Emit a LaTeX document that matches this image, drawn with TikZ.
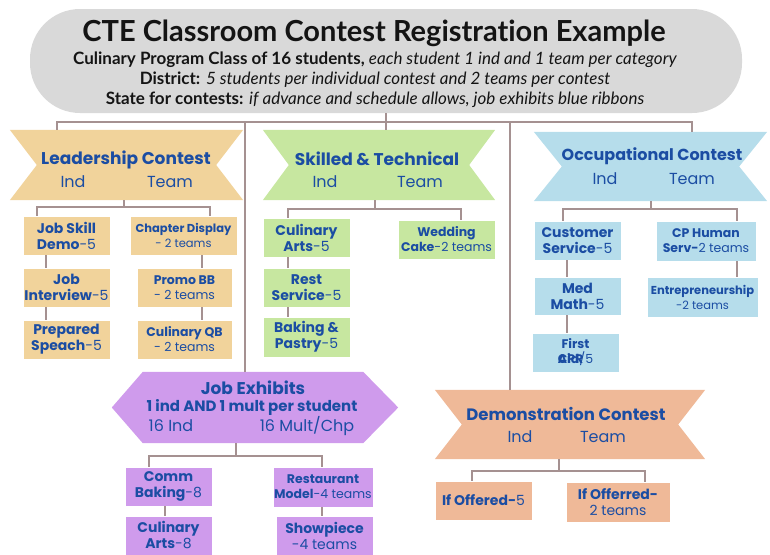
\documentclass[tikz,border=0pt]{standalone}
\usepackage{fontspec}
\setmainfont{Poppins}
\newfontfamily\latofont[Ligatures=NoCommon]{Lato}
\usetikzlibrary{calc}
\definecolor{txtblue}{RGB}{27,77,163}
\definecolor{conncol}{RGB}{165,145,145}
\definecolor{tanc}{RGB}{241,211,155}
\definecolor{greenc}{RGB}{199,231,160}
\definecolor{bluec}{RGB}{182,221,235}
\definecolor{purplec}{RGB}{207,155,236}
\definecolor{peachc}{RGB}{239,185,152}
\definecolor{grayc}{RGB}{217,217,217}
\definecolor{titletxt}{RGB}{20,20,20}
\tikzset{
  conn/.style={draw=conncol, line width=1.1pt},
  cbox/.style={rectangle, inner sep=0pt, align=center, text=txtblue, draw=white, line width=0.8pt, font=\fontsize{14}{16}\selectfont},
  smallbox/.style={cbox, font=\fontsize{12.5}{15}\selectfont},
  bnode/.style={rectangle, inner sep=0pt},
  btitle/.style={text=txtblue, font=\fontsize{17}{20}\selectfont\bfseries, inner sep=0pt},
  bsub/.style={text=txtblue, font=\fontsize{16}{19}\selectfont, inner sep=0pt},
  ttxt/.style={text=titletxt, inner sep=0pt},
  subline/.style={ttxt, font=\latofont\fontsize{17}{20}\selectfont},
}
\begin{document}
\begin{tikzpicture}[x=1pt,y=-1pt]
\useasboundingbox (0,0) rectangle (770,554);
% ---------- title ----------
\node[rectangle, rounded corners=50pt, fill=grayc, minimum width=712pt, minimum height=104pt] (title) at (386,61) {};
\node[ttxt, font=\latofont\fontsize{29}{32}\selectfont\bfseries] (t1) at (374,33) {CTE Classroom Contest Registration Example};
\node[subline] (t2) at (375,60) {\textbf{Culinary Program Class of 16 students,} \textit{each student 1 ind and 1 team per category}};
\node[subline] (t3) at (375,80) {\textbf{District:} \textit{5 students per individual contest and 2 teams per contest}};
\node[subline] (t4) at (375,100) {\textbf{State for contests:} \textit{if advance and schedule allows, job exhibits blue ribbons}};
% ---------- banners ----------
\node[bnode, minimum width=233pt, minimum height=70pt] (lead) at (126.5,165) {};
\fill[tanc] (lead.north west) -- (lead.north east) -- ([xshift=-27pt]lead.east) -- (lead.south east) -- (lead.south west) -- ([xshift=27pt]lead.west) -- cycle;
\node[btitle] (leadT) at (126,160) {Leadership Contest};
\node[bsub] (leadI) at (73,182) {Ind};
\node[bsub] (leadM) at (170,182) {Team};

\node[bnode, minimum width=232pt, minimum height=70pt] (skill) at (379,165) {};
\fill[greenc] (skill.north west) -- (skill.north east) -- ([xshift=-26pt]skill.east) -- (skill.south east) -- (skill.south west) -- ([xshift=26pt]skill.west) -- cycle;
\node[btitle] (skillT) at (377,159) {Skilled \& Technical};
\node[bsub] (skillI) at (325,182) {Ind};
\node[bsub] (skillM) at (420,182) {Team};

\node[bnode, minimum width=233pt, minimum height=69pt] (occ) at (650.5,166.5) {};
\fill[bluec] (occ.north west) -- (occ.north east) -- ([xshift=-28pt]occ.east) -- (occ.south east) -- (occ.south west) -- ([xshift=28pt]occ.west) -- cycle;
\node[btitle, font=\fontsize{16}{19}\selectfont\bfseries] (occT) at (652,156) {Occupational Contest};
\node[bsub] (occI) at (605,179) {Ind};
\node[bsub] (occM) at (692,179) {Team};

\node[bnode, minimum width=270pt, minimum height=69pt] (demo) at (570,424.5) {};
\fill[peachc] (demo.north west) -- (demo.north east) -- ([xshift=-27pt]demo.east) -- (demo.south east) -- (demo.south west) -- ([xshift=27pt]demo.west) -- cycle;
\node[btitle, font=\fontsize{16.5}{19}\selectfont\bfseries] (demoT) at (566,414) {Demonstration Contest};
\node[bsub] (demoI) at (520,437) {Ind};
\node[bsub] (demoM) at (603,437) {Team};

\node[bnode, minimum width=286pt, minimum height=71pt] (job) at (255,407.5) {};
\fill[purplec] (job.west) -- ([xshift=31pt]job.north west) -- ([xshift=-35pt]job.north east) -- (job.east) -- ([xshift=-35pt]job.south east) -- ([xshift=31pt]job.south west) -- cycle;
\node[btitle] (jobT) at (253,388) {Job Exhibits};
\node[btitle, font=\fontsize{15}{18}\selectfont\bfseries] (jobS) at (252,407) {1 ind AND 1 mult per student};
\node[bsub, font=\fontsize{16}{19}\selectfont] (jobI) at (171,426) {16 Ind};
\node[bsub, font=\fontsize{16}{19}\selectfont] (jobM) at (307,426) {16 Mult/Chp};
% ---------- leadership boxes ----------
\node[cbox, fill=tanc, minimum width=87pt, minimum height=39pt] (jsd) at (66.5,235.5) {\textbf{Job Skill}\\\textbf{Demo}-5};
\node[cbox, fill=tanc, minimum width=87pt, minimum height=39pt] (jin) at (66.5,287.5) {\textbf{Job}\\\textbf{Interview}-5};
\node[cbox, fill=tanc, minimum width=87pt, minimum height=39pt] (psp) at (66.5,339.5) {\textbf{Prepared}\\\textbf{Speach}-5};
\node[smallbox, fill=tanc, minimum width=107pt, minimum height=39pt, font=\fontsize{11.5}{15}\selectfont] (chd) at (183.5,235.5) {\textbf{Chapter Display}\\- 2 teams};
\node[smallbox, fill=tanc, minimum width=95pt, minimum height=39pt] (pbb) at (184.5,287.5) {\textbf{Promo BB}\\- 2 teams};
\node[smallbox, fill=tanc, minimum width=95pt, minimum height=39pt] (cqb) at (184.5,339.5) {\textbf{Culinary QB}\\- 2 teams};
% ---------- skilled boxes ----------
\node[cbox, fill=greenc, minimum width=87pt, minimum height=39pt] (cua) at (306.5,237.5) {\textbf{Culinary}\\\textbf{Arts}-5};
\node[cbox, fill=greenc, minimum width=87pt, minimum height=39pt] (rsv) at (306.5,287.5) {\textbf{Rest}\\\textbf{Service}-5};
\node[cbox, fill=greenc, minimum width=87pt, minimum height=40pt] (bkp) at (306.5,337) {\textbf{Baking \&}\\\textbf{Pastry}-5};
\node[smallbox, fill=greenc, minimum width=97pt, minimum height=39pt] (wdc) at (446.5,239.5) {\textbf{Wedding}\\\textbf{Cake}-2 teams};
% ---------- occupational boxes ----------
\node[cbox, fill=bluec, minimum width=87pt, minimum height=39pt] (csv) at (577.5,240.5) {\textbf{Customer}\\\textbf{Service}-5};
\node[cbox, fill=bluec, minimum width=87pt, minimum height=38pt] (mdm) at (577.5,296) {\textbf{Med}\\\textbf{Math}-5};
\node[smallbox, fill=bluec, minimum width=87pt, minimum height=39pt] (fca) at (575.5,352.5) {\textbf{First}\\{\rlap{\textbf{CPR}}\textbf{Aid}}/5};
\node[smallbox, fill=bluec, minimum width=100pt, minimum height=40pt] (cph) at (706,241) {\textbf{CP Human}\\\textbf{Serv-}2 teams};
\node[smallbox, fill=bluec, minimum width=111pt, minimum height=40pt, font=\fontsize{11.5}{15}\selectfont] (ent) at (702.5,297) {\textbf{Entrepreneurship}\\-2 teams};
% ---------- job exhibit boxes ----------
\node[cbox, fill=purplec, minimum width=87pt, minimum height=39pt] (cmb) at (168.5,486.5) {\textbf{Comm}\\\textbf{Baking}-8};
\node[cbox, fill=purplec, minimum width=87pt, minimum height=39pt] (cua2) at (168.5,535.5) {\textbf{Culinary}\\\textbf{Arts}-8};
\node[smallbox, fill=purplec, minimum width=100pt, minimum height=40pt] (rsm) at (323,487) {\textbf{Restaurant}\\\textbf{Model}-4 teams};
\node[cbox, fill=purplec, minimum width=97pt, minimum height=40pt] (shp) at (324.5,536) {\textbf{Showpiece}\\-4 teams};
% ---------- demonstration boxes ----------
\node[cbox, fill=peachc, minimum width=97pt, minimum height=39pt] (iof) at (483.5,500.5) {\textbf{If Offered-}5};
\node[cbox, fill=peachc, minimum width=104pt, minimum height=40pt] (iof2) at (618,502) {\textbf{If Offerred-}\\2 teams};
% ---------- connectors ----------
\coordinate (bus) at (386,122);
\coordinate (busL) at (57,122);
\coordinate (busR) at (692,122);
\coordinate (jtop) at (245,372);
\coordinate (dtop) at (510,390);
\draw[conn] (title.south) -- (bus);
\draw[conn] (lead.north -| busL) -- (busL) -- (busR) -- (occ.north -| busR);
\draw[conn] (bus) -- (skill.north -| bus);
\draw[conn] (jtop) -- (jtop |- bus);
\draw[conn] (dtop) -- (dtop |- bus);
% leadership
\coordinate (lmid) at (124,207);
\coordinate (lbl) at (37,207);
\coordinate (lbr) at (210,207);
\coordinate (lc1) at (46,0);
\coordinate (lc2) at (202,0);
\draw[conn] (lead.south -| lmid) -- (lmid);
\draw[conn] (jsd.north -| lbl) -- (lbl) -- (lbr) -- (chd.north -| lbr);
\draw[conn] (jsd.south -| lc1) -- (jin.north -| lc1);
\draw[conn] (jin.south -| lc1) -- (psp.north -| lc1);
\draw[conn] (chd.south -| lc2) -- (pbb.north -| lc2);
\draw[conn] (pbb.south -| lc2) -- (cqb.north -| lc2);
% skilled
\coordinate (smid) at (375,209);
\coordinate (sbl) at (288,209);
\coordinate (sbr) at (461,209);
\draw[conn] (skill.south -| smid) -- (smid);
\draw[conn] (cua.north -| sbl) -- (sbl) -- (sbr) -- (wdc.north -| sbr);
\draw[conn] (cua.south -| sbl) -- (rsv.north -| sbl);
\draw[conn] (rsv.south -| sbl) -- (bkp.north -| sbl);
% occupational
\coordinate (omid) at (651,209);
\coordinate (obl) at (563,209);
\coordinate (obr) at (737,209);
\coordinate (oc1) at (567,0);
\draw[conn] (occ.south -| omid) -- (omid);
\draw[conn] (csv.north -| obl) -- (obl) -- (obr) -- (cph.north -| obr);
\draw[conn] (csv.south -| oc1) -- (mdm.north -| oc1);
\draw[conn] (mdm.south -| oc1) -- (fca.north -| oc1);
\draw[conn] (cph.south -| obr) -- (ent.north -| obr);
% job exhibits
\coordinate (jmid) at (236,456);
\coordinate (jbl) at (149,456);
\coordinate (jbr) at (322,456);
\coordinate (jc1) at (165,0);
\draw[conn] (job.south -| jmid) -- (jmid);
\draw[conn] (cmb.north -| jbl) -- (jbl) -- (jbr) -- (rsm.north -| jbr);
\draw[conn] (cmb.south -| jc1) -- (cua2.north -| jc1);
\draw[conn] (rsm.south -| jbr) -- (shp.north -| jbr);
% demonstration
\coordinate (dmid) at (559,471);
\coordinate (dbl) at (472,471);
\coordinate (dbr) at (645,471);
\draw[conn] (demo.south -| dmid) -- (dmid);
\draw[conn] (iof.north -| dbl) -- (dbl) -- (dbr) -- (iof2.north -| dbr);
\end{tikzpicture}
\end{document}
